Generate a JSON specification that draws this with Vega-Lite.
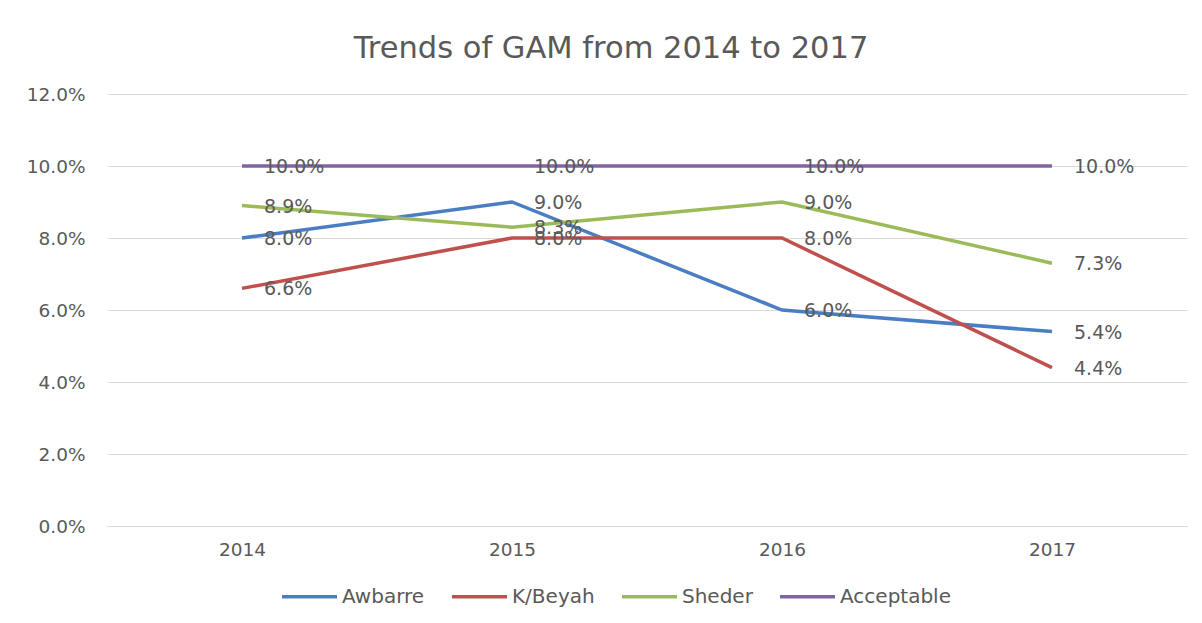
{
  "$schema": "https://vega.github.io/schema/vega-lite/v6.json",
  "width": 1080,
  "height": 432,
  "autosize": {"type": "none"},
  "padding": {"left": 107, "top": 94, "right": 15, "bottom": 97},
  "background": "white",
  "title": {
    "text": "Trends of GAM from 2014 to 2017",
    "font": "DejaVu Sans",
    "fontSize": 30.5,
    "fontWeight": "normal",
    "color": "#595959",
    "anchor": "middle",
    "frame": "group",
    "dx": -36,
    "offset": 21
  },
  "data": {
    "values": [
      {"year": "2014", "series": "Awbarre", "value": 0.080},
      {"year": "2015", "series": "Awbarre", "value": 0.090},
      {"year": "2016", "series": "Awbarre", "value": 0.060},
      {"year": "2017", "series": "Awbarre", "value": 0.054},
      {"year": "2014", "series": "K/Beyah", "value": 0.066},
      {"year": "2015", "series": "K/Beyah", "value": 0.080},
      {"year": "2016", "series": "K/Beyah", "value": 0.080},
      {"year": "2017", "series": "K/Beyah", "value": 0.044},
      {"year": "2014", "series": "Sheder", "value": 0.089},
      {"year": "2015", "series": "Sheder", "value": 0.083},
      {"year": "2016", "series": "Sheder", "value": 0.090},
      {"year": "2017", "series": "Sheder", "value": 0.073},
      {"year": "2014", "series": "Acceptable", "value": 0.100},
      {"year": "2015", "series": "Acceptable", "value": 0.100},
      {"year": "2016", "series": "Acceptable", "value": 0.100},
      {"year": "2017", "series": "Acceptable", "value": 0.100}
    ]
  },
  "encoding": {
    "x": {
      "field": "year",
      "type": "ordinal",
      "title": null,
      "axis": {
        "labelAngle": 0,
        "labelFont": "DejaVu Sans",
        "labelFontSize": 18.5,
        "labelColor": "#595959",
        "labelPadding": 14,
        "ticks": false,
        "domain": true,
        "domainColor": "#d9d9d9",
        "grid": false
      }
    },
    "y": {
      "field": "value",
      "type": "quantitative",
      "title": null,
      "scale": {"domain": [0, 0.12], "nice": false},
      "axis": {
        "values": [0, 0.02, 0.04, 0.06, 0.08, 0.1, 0.12],
        "format": ".1%",
        "labelFont": "DejaVu Sans",
        "labelFontSize": 18.5,
        "labelColor": "#595959",
        "labelPadding": 22,
        "ticks": false,
        "domain": false,
        "grid": true,
        "gridColor": "#d9d9d9",
        "gridWidth": 1
      }
    },
    "color": {
      "field": "series",
      "type": "nominal",
      "scale": {
        "domain": ["Awbarre", "K/Beyah", "Sheder", "Acceptable"],
        "range": ["#4A7EC4", "#C0504D", "#9BBB59", "#8064A2"]
      },
      "legend": {
        "title": null,
        "orient": "none",
        "direction": "horizontal",
        "legendX": 173,
        "legendY": 473,
        "symbolType": "stroke",
        "symbolSize": 3025,
        "symbolStrokeWidth": 3.5,
        "labelFont": "DejaVu Sans",
        "labelFontSize": 20,
        "labelColor": "#595959",
        "labelOffset": 3,
        "columnPadding": 20
      }
    }
  },
  "layer": [
    {
      "mark": {"type": "line", "strokeWidth": 3.5}
    },
    {
      "mark": {
        "type": "text",
        "align": "left",
        "baseline": "middle",
        "dx": 22,
        "dy": 1,
        "font": "DejaVu Sans",
        "fontSize": 19,
        "color": "#595959"
      },
      "encoding": {
        "text": {"field": "value", "type": "quantitative", "format": ".1%"},
        "color": {"value": "#595959"}
      }
    }
  ],
  "config": {
    "view": {"stroke": null}
  }
}
